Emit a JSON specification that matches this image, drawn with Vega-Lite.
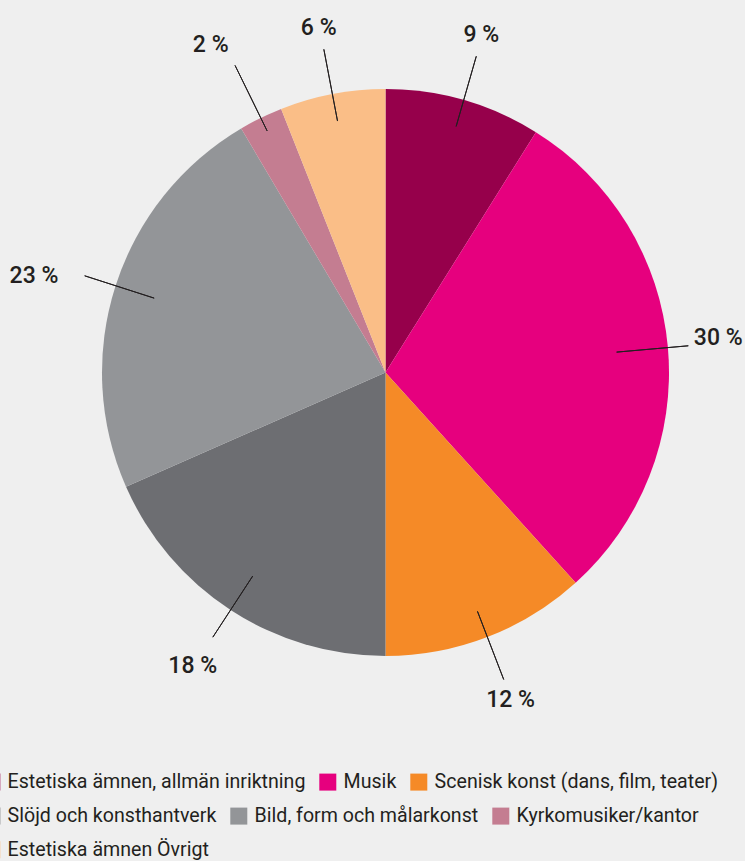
{
  "$schema": "https://vega.github.io/schema/vega-lite/v6.json",
  "width": 719,
  "height": 745,
  "autosize": {"type": "none"},
  "padding": {"left": 26, "top": 0, "right": 0, "bottom": 116},
  "background": "#efefef",
  "config": {
    "view": {"stroke": null},
    "font": "Roboto",
    "legend": {
      "orient": "none",
      "direction": "horizontal",
      "title": null,
      "symbolType": "square",
      "symbolSize": 289,
      "symbolStrokeWidth": 0,
      "symbolOpacity": 1,
      "labelFont": "Roboto",
      "labelFontSize": 19.6,
      "labelColor": "#231f20",
      "labelLimit": 600,
      "labelOffset": 6,
      "columnPadding": 12,
      "padding": 0
    }
  },
  "data": {
    "values": [
      {"order": 1, "category": "Estetiska ämnen, allmän inriktning", "value": 8.9, "label": "9 %"},
      {"order": 2, "category": "Musik", "value": 29.4, "label": "30 %"},
      {"order": 3, "category": "Scenisk konst (dans, film, teater)", "value": 11.7, "label": "12 %"},
      {"order": 4, "category": "Slöjd och konsthantverk", "value": 18.4, "label": "18 %"},
      {"order": 5, "category": "Bild, form och målarkonst", "value": 23.1, "label": "23 %"},
      {"order": 6, "category": "Kyrkomusiker/kantor", "value": 2.5, "label": "2 %"},
      {"order": 7, "category": "Estetiska ämnen Övrigt", "value": 6.0, "label": "6 %"}
    ]
  },
  "encoding": {
    "theta": {"field": "value", "type": "quantitative", "stack": true, "scale": {"domain": [0, 100]}},
    "order": {"field": "order", "type": "quantitative"}
  },
  "layer": [
    {
      "mark": {"type": "arc", "radius": 283.5},
      "encoding": {
        "color": {
          "field": "category",
          "type": "nominal",
          "scale": {
            "domain": ["Estetiska ämnen, allmän inriktning", "Musik", "Scenisk konst (dans, film, teater)", "Slöjd och konsthantverk", "Bild, form och målarkonst", "Kyrkomusiker/kantor", "Estetiska ämnen Övrigt"],
            "range": ["#96004b", "#e6007e", "#f58a27", "#6d6e72", "#939598", "#c47d91", "#fabe87"]
          },
          "legend": null
        }
      }
    },
    {
      "transform": [{"filter": "datum.order <= 3"}],
      "mark": {"type": "arc", "radius": 10, "opacity": 0},
      "encoding": {
        "color": {
          "field": "category",
          "type": "nominal",
          "scale": {
            "domain": ["Estetiska ämnen, allmän inriktning", "Musik", "Scenisk konst (dans, film, teater)"],
            "range": ["#96004b", "#e6007e", "#f58a27"]
          },
          "legend": {"legendX": -44, "legendY": 772, "symbolOpacity": 1}
        }
      }
    },
    {
      "transform": [{"filter": "datum.order >= 4 && datum.order <= 6"}],
      "mark": {"type": "arc", "radius": 10, "opacity": 0},
      "encoding": {
        "color": {
          "field": "category",
          "type": "nominal",
          "scale": {
            "domain": ["Slöjd och konsthantverk", "Bild, form och målarkonst", "Kyrkomusiker/kantor"],
            "range": ["#6d6e72", "#939598", "#c47d91"]
          },
          "legend": {"legendX": -44, "legendY": 806, "symbolOpacity": 1}
        }
      }
    },
    {
      "transform": [{"filter": "datum.order == 7"}],
      "mark": {"type": "arc", "radius": 10, "opacity": 0},
      "encoding": {
        "color": {
          "field": "category",
          "type": "nominal",
          "scale": {
            "domain": ["Estetiska ämnen Övrigt"],
            "range": ["#fabe87"]
          },
          "legend": {"legendX": -44, "legendY": 840, "symbolOpacity": 1}
        }
      }
    },
    {
      "mark": {"type": "arc", "radius": 329, "radius2": 256, "padAngle": 1.5, "filled": false, "stroke": "#231f20", "strokeWidth": 1},
      "encoding": {"strokeOpacity": {"condition": {"test": "datum.order == 1 || datum.order == 3 || datum.order == 7", "value": 1}, "value": 0}}
    },
    {
      "mark": {"type": "arc", "radius": 304, "radius2": 232, "padAngle": 1.5, "filled": false, "stroke": "#231f20", "strokeWidth": 1},
      "encoding": {"strokeOpacity": {"condition": {"test": "datum.order == 2", "value": 1}, "value": 0}}
    },
    {
      "mark": {"type": "arc", "radius": 316, "radius2": 243, "padAngle": 1.5, "filled": false, "stroke": "#231f20", "strokeWidth": 1},
      "encoding": {"strokeOpacity": {"condition": {"test": "datum.order == 4 || datum.order == 5", "value": 1}, "value": 0}}
    },
    {
      "mark": {"type": "arc", "radius": 342, "radius2": 269, "padAngle": 1.5, "filled": false, "stroke": "#231f20", "strokeWidth": 1},
      "encoding": {"strokeOpacity": {"condition": {"test": "datum.order == 6", "value": 1}, "value": 0}}
    },
    {
      "mark": {"type": "text", "radius": 351, "dx": -1, "font": "Roboto", "fontSize": 23, "fontWeight": 500, "color": "#231f20", "align": "center", "baseline": "middle"},
      "encoding": {
        "text": {"condition": {"test": "datum.order == 1 || datum.order == 3 || datum.order == 4 || datum.order == 7", "field": "label", "type": "nominal"}, "value": ""}
      }
    },
    {
      "mark": {"type": "text", "radius": 334, "dy": -5, "font": "Roboto", "fontSize": 23, "fontWeight": 500, "color": "#231f20", "align": "center", "baseline": "middle"},
      "encoding": {
        "text": {"condition": {"test": "datum.order == 2", "field": "label", "type": "nominal"}, "value": ""}
      }
    },
    {
      "mark": {"type": "text", "radius": 364, "dx": -5, "dy": 15, "font": "Roboto", "fontSize": 23, "fontWeight": 500, "color": "#231f20", "align": "center", "baseline": "middle"},
      "encoding": {
        "text": {"condition": {"test": "datum.order == 5", "field": "label", "type": "nominal"}, "value": ""}
      }
    },
    {
      "mark": {"type": "text", "radius": 370, "dx": -12, "dy": 5, "font": "Roboto", "fontSize": 23, "fontWeight": 500, "color": "#231f20", "align": "center", "baseline": "middle"},
      "encoding": {
        "text": {"condition": {"test": "datum.order == 6", "field": "label", "type": "nominal"}, "value": ""}
      }
    }
  ],
  "resolve": {"scale": {"color": "independent"}, "legend": {"color": "independent"}}
}
